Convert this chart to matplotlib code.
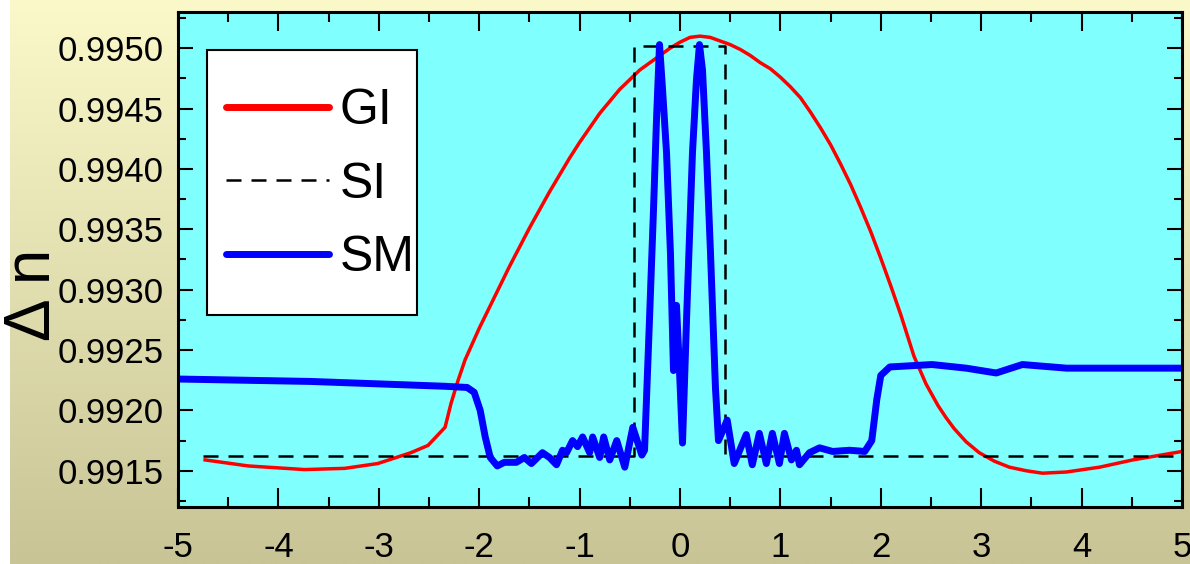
import matplotlib
matplotlib.use("Agg")
import matplotlib.pyplot as plt
import matplotlib.font_manager as fm
from matplotlib.patches import Rectangle
from matplotlib.ticker import MultipleLocator, FormatStrFormatter
import numpy as np

# step-index profile (SI)
si_x = [-4.75, -0.46, -0.46, 0.45, 0.45, 5.0]
si_y = [0.99162, 0.99162, 0.99502, 0.99502, 0.99162, 0.99162]

# graded-index profile (GI)
gi_x = [-4.73, -4.3, -3.74, -3.34, -3.01, -2.68, -2.51, -2.34, -2.28, -2.21, -2.14,
        -2.0, -1.9, -1.8, -1.7, -1.6, -1.5, -1.4, -1.3, -1.2, -1.1, -1.0, -0.9,
        -0.8, -0.7, -0.6, -0.5, -0.4, -0.3, -0.2, -0.1, 0.0, 0.1, 0.2, 0.3, 0.4,
        0.5, 0.6, 0.7, 0.8, 0.9, 1.0, 1.1, 1.2, 1.3, 1.4, 1.5, 1.6, 1.7, 1.8,
        1.9, 2.0, 2.1, 2.2, 2.33, 2.45, 2.57, 2.65, 2.73, 2.85, 2.98, 3.13, 3.28,
        3.45, 3.61, 3.85, 4.18, 4.51, 5.0]
gi_y = [0.99159, 0.99154, 0.99151, 0.99152, 0.99156, 0.99165, 0.99171, 0.99186,
        0.99206, 0.99225, 0.99242, 0.99268, 0.99285, 0.99302, 0.99319, 0.99335,
        0.99351, 0.99366, 0.99381, 0.99395, 0.99409, 0.99422, 0.99434, 0.99446,
        0.99456, 0.99466, 0.99474, 0.99482, 0.99488, 0.99494, 0.99500, 0.99505,
        0.99509, 0.99510, 0.99509, 0.99506, 0.99503, 0.99499, 0.99494, 0.99488,
        0.99483, 0.99476, 0.99468, 0.99459, 0.99447, 0.99434, 0.99420, 0.99404,
        0.99387, 0.99368, 0.99348, 0.99326, 0.99303, 0.99279, 0.99245, 0.99222,
        0.99204, 0.99194, 0.99185, 0.99174, 0.99165, 0.99158, 0.99153, 0.99150,
        0.99148, 0.99149, 0.99153, 0.99159, 0.99166]

# simulated mode profile (SM)
sm_x = [-5.0, -4.34, -3.68, -3.01, -2.34, -2.12, -2.05, -1.99, -1.94, -1.89, -1.82,
        -1.75, -1.63, -1.55, -1.48, -1.37, -1.30, -1.23, -1.17, -1.13, -1.07, -1.02,
        -0.97, -0.90, -0.87, -0.80, -0.76, -0.70, -0.63, -0.55, -0.47, -0.38,
        -0.353, -0.304, -0.264, -0.234, -0.204, -0.174, -0.134, -0.095, -0.065,
        -0.035, -0.005, 0.025, 0.065, 0.095, 0.124, 0.164, 0.194, 0.224, 0.264,
        0.304, 0.353, 0.383, 0.47, 0.54, 0.66, 0.72, 0.79,
        0.86, 0.92, 0.99, 1.04, 1.11, 1.16, 1.19, 1.29, 1.39, 1.52, 1.69, 1.84,
        1.91, 1.96, 2.00, 2.09, 2.51, 2.85, 3.15, 3.41, 3.85, 4.51, 5.0]
sm_y = [0.99226, 0.99225, 0.99224, 0.99222, 0.99220, 0.99219, 0.99215, 0.99200,
        0.99178, 0.99161, 0.99154, 0.99157, 0.99157, 0.99161, 0.99156, 0.99165,
        0.99161, 0.99155, 0.99167, 0.99165, 0.99175, 0.99170, 0.99178, 0.99165,
        0.99178, 0.99161, 0.99178, 0.99159, 0.99175, 0.99153, 0.99186, 0.99163,
        0.99167, 0.99275, 0.99366, 0.99441, 0.99503, 0.99466, 0.99413, 0.99330,
        0.99233, 0.99287, 0.99233, 0.99173, 0.99275, 0.99345, 0.99413, 0.99474,
        0.99503, 0.99482, 0.99413, 0.99330, 0.99219, 0.99175,
        0.99192, 0.99156, 0.99180, 0.99155, 0.99181,
        0.99156, 0.99181, 0.99156, 0.99181, 0.99159, 0.99167, 0.99155, 0.99165,
        0.99169, 0.99166, 0.99167, 0.99166, 0.99175, 0.99209, 0.99229, 0.99236,
        0.99238, 0.99235, 0.99231, 0.99238, 0.99235, 0.99235, 0.99235]

x_ticks = [-5, -4, -3, -2, -1, 0, 1, 2, 3, 4, 5]

names = {f.name for f in fm.fontManager.ttflist}
font = "Liberation Sans Narrow" if "Liberation Sans Narrow" in names else "Liberation Sans"
plt.rcParams["font.family"] = [font, "DejaVu Sans"]
plt.rcParams["axes.unicode_minus"] = False

fig = plt.figure(figsize=(11.9, 5.64), dpi=100, facecolor="white")

# yellowish gradient behind the plot
bg = fig.add_axes([10 / 1190, 0, 1 - 10 / 1190, 1], zorder=-10)
top = np.array([251, 249, 202]) / 255
bot = np.array([200, 196, 150]) / 255
t = np.linspace(0, 1, 256)[:, None]
grad = top * (1 - t) + bot * t
bg.imshow(grad[:, None, :].repeat(2, axis=1), aspect="auto", extent=[0, 1, 0, 1])
bg.axis("off")

ax = fig.add_axes([178 / 1190, 57 / 564, 1004 / 1190, 495 / 564])
ax.set_facecolor("#80FFFF")

ax.plot(gi_x, gi_y, color="#FF0000", lw=2.5, label="GI", solid_joinstyle="round")
ax.plot(si_x, si_y, color="black", lw=1.8, dashes=(6, 4), label="SI")
ax.plot(sm_x, sm_y, color="#0000FF", lw=5, label="SM",
        solid_joinstyle="round", solid_capstyle="round")

ax.set_xlim(-5, 5)
ax.set_xticks(x_ticks)
ax.set_xticklabels([str(v) for v in x_ticks])
ax.xaxis.set_minor_locator(MultipleLocator(0.5))
ax.yaxis.set_major_locator(MultipleLocator(0.0005))
ax.yaxis.set_minor_locator(MultipleLocator(0.00025))
ax.yaxis.set_major_formatter(FormatStrFormatter("%.4f"))
ax.set_ylim(0.9912, 0.9953)

ax.tick_params(axis="x", which="major", direction="in", length=14, width=1.5,
               top=True, labelsize=25, pad=17)
ax.tick_params(axis="x", which="minor", direction="in", length=7, width=1.5, top=True)
ax.tick_params(axis="y", which="major", direction="in", length=11, width=1.5,
               right=True, labelsize=25, pad=10)
ax.tick_params(axis="y", which="minor", direction="in", length=6, width=1.5, right=True)
for s in ax.spines.values():
    s.set_linewidth(2.2)

fig.text(33 / 1190, 1 - 295 / 564, "Δ n", rotation=90, fontsize=46,
         ha="center", va="center")

# legend box drawn separately so its padding can be set freely
ax.add_patch(Rectangle((0.0289, 0.388), 0.209, 0.535, transform=ax.transAxes,
                       facecolor="white", edgecolor="black", lw=1.5, zorder=5))
leg = ax.legend(loc="upper left", bbox_to_anchor=(0.0478, 0.846), fontsize=36,
                frameon=False, handlelength=2.06, handletextpad=0.22,
                labelspacing=0.55, borderpad=0, borderaxespad=0)
leg.set_zorder(6)
for ln in leg.get_lines():
    if ln.get_label() != "SI":
        ln.set_linewidth(5)
    ln.set_solid_capstyle("round")

fig.savefig("out.png", dpi=100)
